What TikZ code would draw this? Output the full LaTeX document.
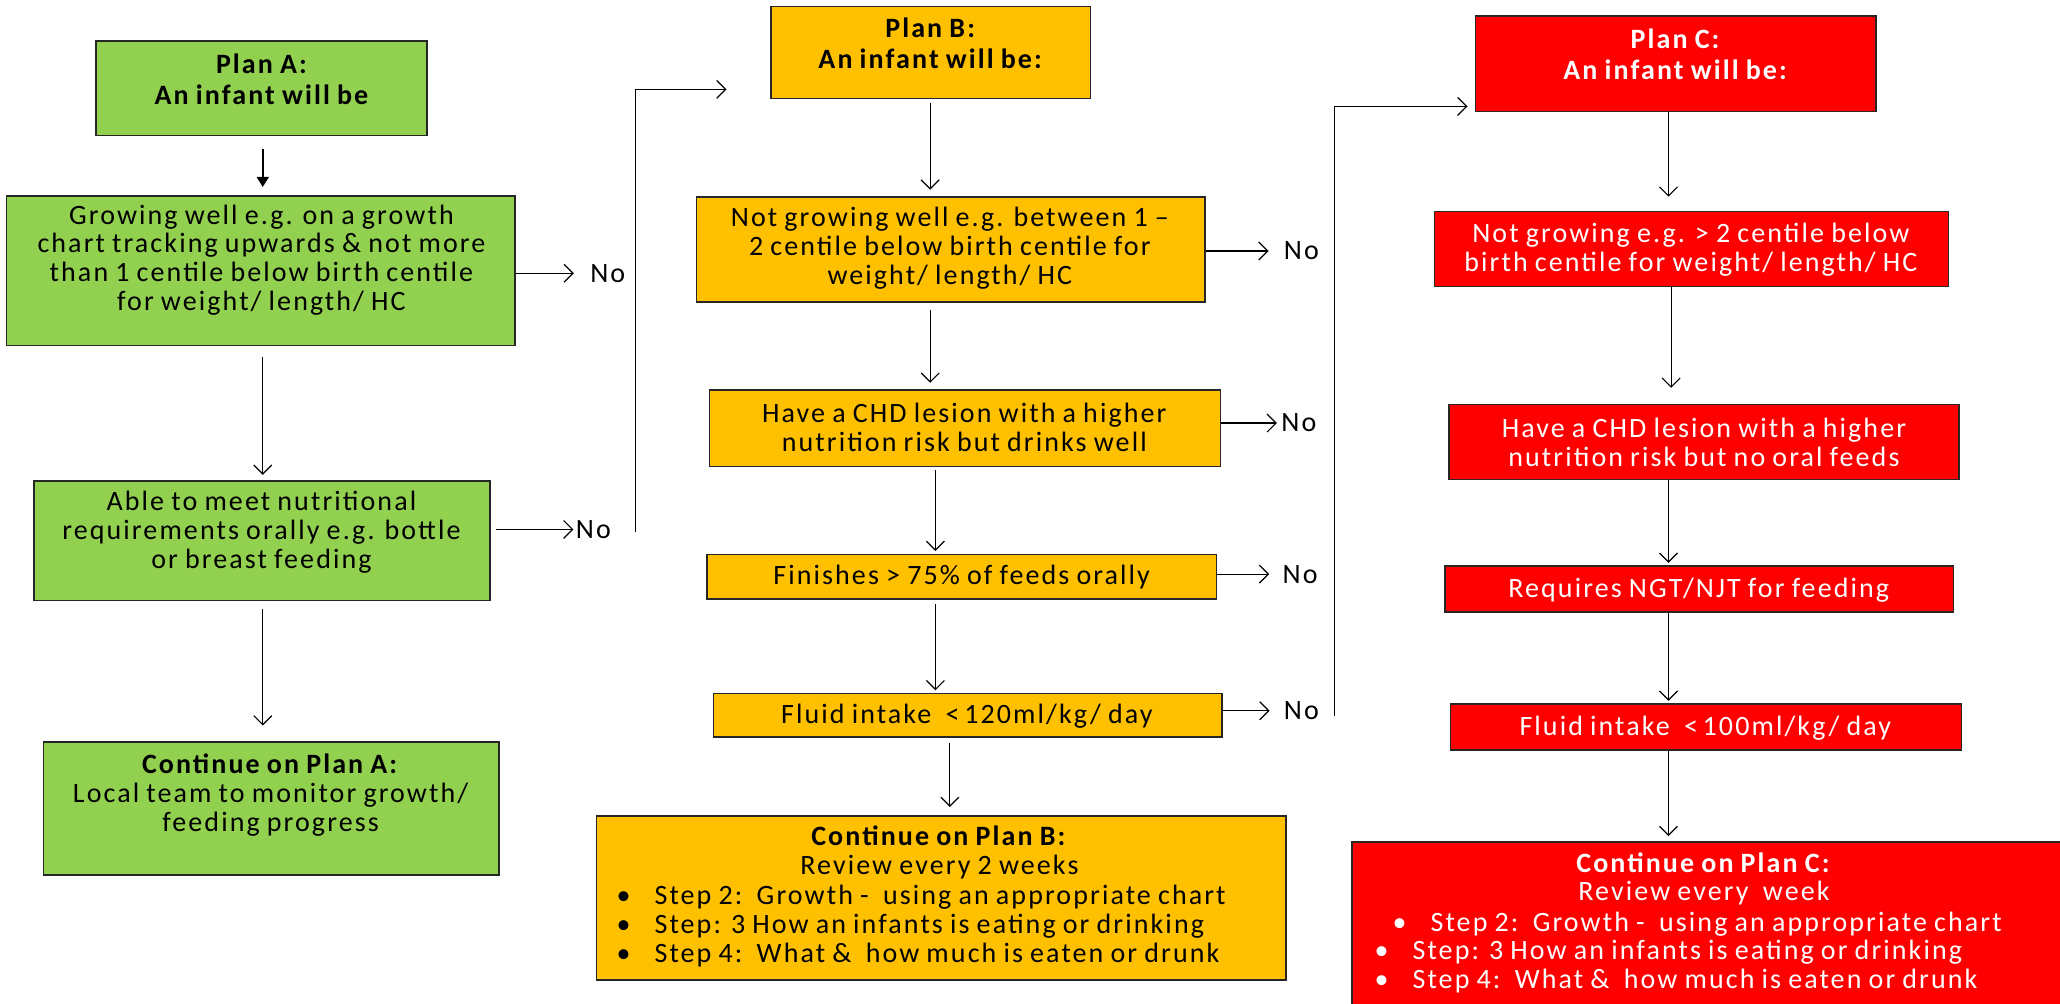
\documentclass[tikz,border=0pt]{standalone}
\usepackage{fontspec}
\setmainfont{Carlito}[LetterSpace=7.5, WordSpace=0.85]
\usetikzlibrary{arrows.meta}
\definecolor{gA}{HTML}{92D050}
\definecolor{oB}{HTML}{FFC000}
\definecolor{rC}{HTML}{FF0000}
\tikzset{
  box/.style={draw=black!85, line width=0.8pt, inner sep=0pt, rectangle},
  boxA/.style={box, fill=gA},
  boxB/.style={box, fill=oB},
  boxC/.style={box, fill=rC},
  txt/.style={inner sep=0pt, align=center, font=\fontsize{14}{14.45}\selectfont},
  ttl/.style={inner sep=0pt, align=center, font=\fontsize{14}{15.5}\selectfont\bfseries},
  wtxt/.style={txt, text=white},
  wttl/.style={ttl, text=white},
  lst/.style={inner sep=0pt, align=left, anchor=west, font=\fontsize{14}{14.45}\selectfont},
  nolab/.style={inner sep=0pt, anchor=west, font=\fontsize{14}{14.45}\selectfont},
  arr/.style={-{Straight Barb[length=4.5pt,width=9pt]}, line width=0.6pt},
  farr/.style={-{Triangle[length=5pt,width=6pt]}, line width=0.8pt}
}
\newcommand\mybox[6]{\node[#6, minimum width={(#4-#2)*0.6569pt}, minimum height={(#5-#3)*0.6569pt}] (#1) at ({(#2+#4)/2},{(#3+#5)/2}) {};}
\begin{document}
\begin{tikzpicture}[x=0.6569pt, y=-0.6569pt]
\useasboundingbox[fill=white] (0,0) rectangle (1568,764);

% ---------- Plan A column ----------
\mybox{pa}{73}{31}{325}{103}{boxA}
\mybox{ga}{5}{149}{392}{263}{boxA}
\mybox{aa}{26}{366}{373}{457}{boxA}
\mybox{ca}{33}{565}{380}{666}{boxA}
\node[ttl] (pat) at (199,60) {Plan A:\\An infant will be};
\node[txt] (gat) at (199,198) {Growing well e.g. on a growth\\chart tracking upwards \& not more\\than 1 centile below birth centile\\for weight/ length/ HC};
\node[txt] (aat) at (199,405) {Able to meet nutritional\\requirements orally e.g. bottle\\or breast feeding};
\node[txt] (cat) at (206,605) {\textbf{Continue on Plan A:}\\Local team to monitor growth/\\feeding progress};

\coordinate (colA) at (200,0);
\draw[farr, shorten <=6.6pt, shorten >=4pt] (colA |- pa.south) -- (colA |- ga.north);
\draw[arr, shorten <=5.3pt, shorten >=2.6pt] (colA |- ga.south) -- (colA |- aa.north);
\draw[arr, shorten <=4pt, shorten >=8pt] (colA |- aa.south) -- (colA |- ca.north);

\node[nolab] (noA1) at (449,208) {No};
\node[nolab] (noA2) at (438,403) {No};
\draw[arr, shorten >=8pt] (ga.east |- noA1.west) -- (noA1.west);
\draw[arr, shorten <=2.6pt, shorten >=1pt] (aa.east |- noA2.west) -- (noA2.west);

\coordinate (j1a) at (484,405);
\coordinate (j1b) at (553,68);
\draw[arr] (j1a) |- (j1b);

% ---------- Plan B column ----------
\mybox{pb}{587}{5}{830}{75}{boxB}
\mybox{ngb}{530}{150}{917}{230}{boxB}
\mybox{chdb}{540}{297}{929}{355}{boxB}
\mybox{fin}{538}{422}{926}{456}{boxB}
\mybox{flb}{543}{528}{930}{561}{boxB}
\mybox{cb}{454}{621}{979}{746}{boxB}
\node[ttl] (pbt) at (708,33) {Plan B:\\An infant will be:};
\node[txt] (ngbt) at (723,189) {Not growing well e.g. between 1 –\\2 centile below birth centile for\\weight/ length/ HC};
\node[txt] (chdbt) at (734,325) {Have a CHD lesion with a higher\\nutrition risk but drinks well};
\node[txt] (fint) at (732,439) {Finishes > 75\% of feeds orally};
\node[txt] (flbt) at (736,545) {Fluid intake\ \ <\,120ml/kg/ day};
\node[txt] (cbt) at (715,649) {\textbf{Continue on Plan B:}\\Review every 2 weeks};
\node[lst] (cbl) at (469,705) {\makebox[19pt][l]{•}Step 2:\ \ Growth -\ \ using an appropriate chart\\
\makebox[19pt][l]{•}Step: 3 How an infants is eating or drinking\\
\makebox[19pt][l]{•}Step 4:\ \ What \&\ \ how much is eaten or drunk};

\coordinate (colB1) at (708,0);
\coordinate (colB2) at (712,0);
\coordinate (colB3) at (723,0);
\draw[arr, shorten <=2pt, shorten >=3.3pt] (colB1 |- pb.south) -- (colB1 |- ngb.north);
\draw[arr, shorten <=3.3pt, shorten >=3.3pt] (colB1 |- ngb.south) -- (colB1 |- chdb.north);
\draw[arr, shorten <=1.3pt, shorten >=1.3pt] (colB2 |- chdb.south) -- (colB2 |- fin.north);
\draw[arr, shorten <=2pt, shorten >=1.3pt] (colB2 |- fin.south) -- (colB2 |- flb.north);
\draw[arr, shorten <=2.6pt, shorten >=4pt] (colB3 |- flb.south) -- (colB3 |- cb.north);

\node[nolab] (noB1) at (977,191) {No};
\node[nolab] (noB2) at (975,322) {No};
\node[nolab] (noB3) at (976,437) {No};
\node[nolab] (noB4) at (977,541) {No};
\draw[arr, shorten >=7.5pt] (ngb.east |- noB1.west) -- (noB1.west);
\draw[arr, shorten >=2pt] (chdb.east |- noB2.west) -- (noB2.west);
\draw[arr, shorten >=6.5pt] (fin.east |- noB3.west) -- (noB3.west);
\draw[arr, shorten >=7pt] (flb.east |- noB4.west) -- (noB4.west);

\coordinate (j2a) at (1016,545);
\coordinate (j2b) at (1117,81);
\draw[arr] (j2a) |- (j2b);

% ---------- Plan C column ----------
\mybox{pc}{1123}{12}{1428}{85}{boxC}
\mybox{ngc}{1092}{161}{1483}{218}{boxC}
\mybox{chdc}{1103}{308}{1491}{365}{boxC}
\mybox{req}{1100}{431}{1487}{466}{boxC}
\mybox{flc}{1104}{536}{1493}{571}{boxC}
\mybox{cc}{1029}{641}{1580}{775}{boxC}
\node[wttl] (pct) at (1275,41) {Plan C:\\An infant will be:};
\node[wtxt] (ngct) at (1287,190) {Not growing e.g. > 2 centile below\\birth centile for weight/ length/ HC};
\node[wtxt] (chdct) at (1297,337) {Have a CHD lesion with a higher\\nutrition risk but no oral feeds};
\node[wtxt] (reqt) at (1293,449) {Requires NGT/NJT for feeding};
\node[wtxt] (flct) at (1298,554) {Fluid intake\ \ <\,100ml/kg/ day};
\node[wtxt] (cct) at (1297,669) {\textbf{Continue on Plan C:}\\Review every\ \ week};
\node[lst, text=white] (ccl) at (1046,725) {\hspace{9pt}\makebox[19pt][l]{•}Step 2:\ \ Growth -\ \ using an appropriate chart\\
\makebox[19pt][l]{•}Step: 3 How an infants is eating or drinking\\
\makebox[19pt][l]{•}Step 4:\ \ What \&\ \ how much is eaten or drunk};

\coordinate (colC1) at (1270,0);
\coordinate (colC2) at (1272,0);
\draw[arr, shorten >=7pt] (colC1 |- pc.south) -- (colC1 |- ngc.north);
\draw[arr, shorten >=8pt] (colC2 |- ngc.south) -- (colC2 |- chdc.north);
\draw[arr, shorten >=1.3pt] (colC1 |- chdc.south) -- (colC1 |- req.north);
\draw[arr, shorten >=1.3pt] (colC1 |- req.south) -- (colC1 |- flc.north);
\draw[arr, shorten >=2.6pt] (colC1 |- flc.south) -- (colC1 |- cc.north);
\end{tikzpicture}
\end{document}
